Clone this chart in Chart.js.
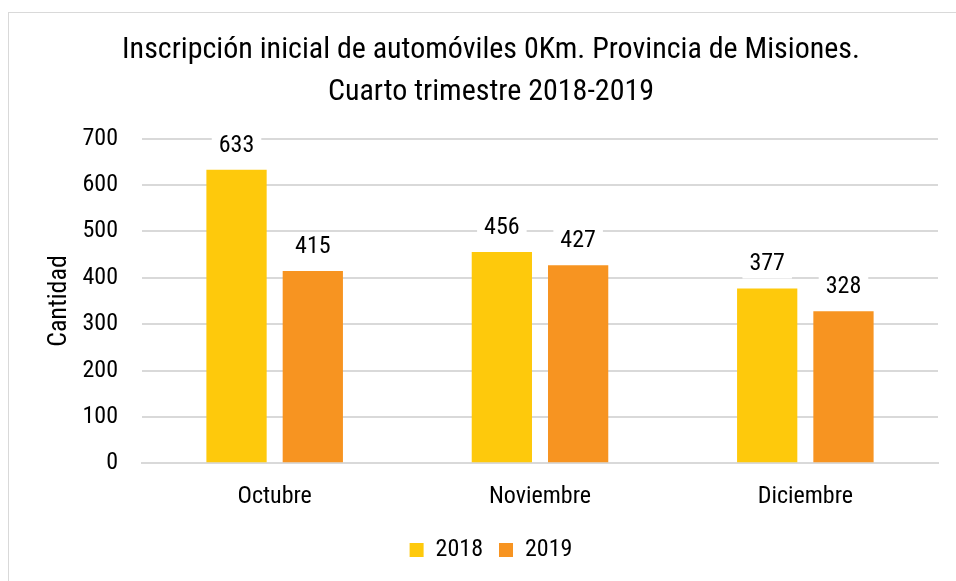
<!DOCTYPE html>
<html>
<head>
<meta charset="utf-8">
<script src="https://cdn.jsdelivr.net/npm/chart.js@4/dist/chart.umd.min.js"></script>
<style>
  html, body { margin: 0; padding: 0; background: #fff; }
  #wrap { position: relative; width: 956px; height: 581px; overflow: hidden; }
  #frame { position: absolute; left: 8px; top: 12px; width: 1000px; height: 700px; border: 1px solid #d9d9d9; }
  canvas { position: absolute; left: 0; top: 0; }
</style>
</head>
<body>
<div id="wrap">
  <div id="frame"></div>
  <canvas id="myChart" width="956" height="581"></canvas>
</div>
<script>
const meses = ['Octubre', 'Noviembre', 'Diciembre'];
const valores2018 = [633, 456, 377];
const valores2019 = [415, 427, 328];
const tituloLineas = ['Inscripción inicial de automóviles 0Km. Provincia de Misiones.', 'Cuarto trimestre 2018-2019'];

const fuente = "'Liberation Sans Narrow', 'Roboto Condensed', 'Arial Narrow', Roboto, sans-serif";

// etiquetas con fondo blanco encima de cada barra
const etiquetas = {
  id: 'etiquetas',
  afterDatasetsDraw(chart) {
    const ctx = chart.ctx;
    ctx.save();
    ctx.font = '24px ' + fuente;
    ctx.textAlign = 'center';
    ctx.textBaseline = 'middle';
    chart.data.datasets.forEach((ds, i) => {
      chart.getDatasetMeta(i).data.forEach((bar, j) => {
        const txt = String(ds.data[j]);
        const w = ctx.measureText(txt).width;
        const y = bar.y - 24;
        ctx.fillStyle = '#fff';
        ctx.fillRect(bar.x - w / 2 - 7, y - 14, w + 14, 28);
        ctx.fillStyle = '#000';
        ctx.fillText(txt, bar.x, y);
      });
    });
    ctx.restore();
  }
};

function crearGrafico() {
  const ctx = document.getElementById('myChart').getContext('2d');
  new Chart(ctx, {
    type: 'bar',
    data: {
      labels: meses,
      datasets: [
        { label: '2018', data: valores2018, backgroundColor: '#FEC90C' },
        { label: '2019', data: valores2019, backgroundColor: '#F79421' }
      ]
    },
    options: {
      responsive: false,
      animation: false,
      layout: { padding: { left: 44, right: 18, top: 30, bottom: 9 } },
      datasets: {
        bar: { categoryPercentage: 0.575, barPercentage: 0.79 }
      },
      plugins: {
        title: {
          display: true,
          text: tituloLineas,
          color: '#000',
          font: { family: fuente, size: 30, weight: 'normal', lineHeight: 1.38 },
          padding: { top: 0, bottom: 26 }
        },
        legend: {
          position: 'bottom',
          labels: {
            color: '#000',
            font: { family: fuente, size: 24 },
            boxWidth: 14,
            boxHeight: 14,
            padding: 16
          }
        },
        tooltip: { enabled: false }
      },
      scales: {
        x: {
          grid: { display: false },
          border: { color: '#d9d9d9', width: 2 },
          ticks: { color: '#000', font: { family: fuente, size: 24 }, padding: 11 }
        },
        y: {
          min: 0,
          max: 700,
          afterFit(scale) { scale.width = 98; },
          ticks: { stepSize: 100, color: '#000', font: { family: fuente, size: 24 }, padding: 24 },
          grid: { color: '#d9d9d9', lineWidth: 2, drawTicks: false },
          border: { display: false },
          title: {
            display: true,
            text: 'Cantidad',
            color: '#000',
            font: { family: fuente, size: 26 },
            padding: 0
          }
        }
      }
    },
    plugins: [etiquetas]
  });
}

window.onload = crearGrafico;
</script>
</body>
</html>
